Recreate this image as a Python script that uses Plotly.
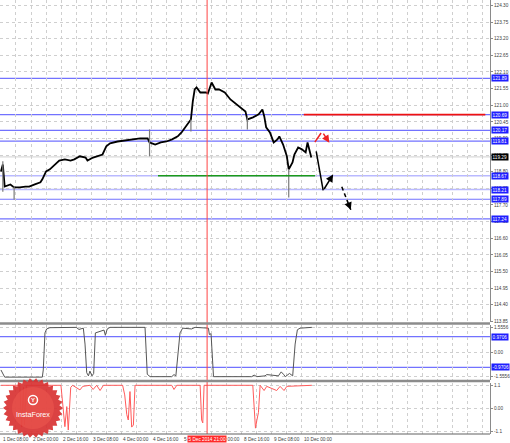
import math
import plotly.graph_objects as go

# ---------------- data ----------------
# H1 bar index counted from 1 Dec 08:00
price_bar = [0, 1, 2, 5, 7, 10, 13, 15, 18, 21, 22, 24, 26, 29, 31, 34, 37, 39, 42, 45,
             46, 49, 53, 54, 56, 58, 62, 66, 70, 74, 78, 79, 82, 85, 88, 91, 94, 96, 98, 101,
             102, 103, 104, 106, 109, 110, 112, 114, 116, 119, 122, 124, 127, 130, 131, 134, 137, 139, 140, 141,
             143, 145, 147, 148, 150, 152, 153, 155, 156, 158, 160, 162, 163, 165]
price_close = [118.81, 119.04, 118.31, 118.38, 118.28, 118.28, 118.31, 118.31, 118.38, 118.45, 118.55, 118.81, 118.88, 119.04, 119.17, 119.21, 119.17, 119.21, 119.31, 119.27,
               119.17, 119.27, 119.34, 119.37, 119.64, 119.74, 119.80, 119.84, 119.87, 119.90, 119.90, 119.77, 119.70, 119.77, 119.80, 119.87, 119.97, 120.10, 120.27, 120.53,
               121.13, 121.52, 121.59, 121.42, 121.42, 121.39, 121.75, 121.52, 121.52, 121.42, 121.19, 121.09, 120.96, 120.79, 120.53, 120.60, 120.70, 120.86, 120.63, 120.27,
               120.10, 119.77, 119.87, 119.97, 119.70, 119.31, 118.88, 119.11, 119.37, 119.60, 119.54, 119.44, 119.77, 119.27]

wick_bar = [1, 7, 79, 101, 131, 153]
wick_high = [119.15, 118.31, 120.20, 120.53, 120.63, 118.88]
wick_low = [118.14, 117.88, 119.31, 120.13, 120.20, 117.95]

level_blue = [121.89, 120.69, 120.17, 119.81, 117.89, 117.24]
level_pale = [118.67, 118.21]
bid_price = 119.29
green_level = 118.67
green_bars = [83.5, 167]
red_level = 120.69
red_bars = [161, 257.5]
cursor_bar = 109.6
cursor_label = "5 Dec 2014 21:00"

fc_solid_bar = [167.6, 171.3, 176.6]
fc_solid_price = [119.47, 118.18, 118.71]
fc_dash_bar = [181.2, 186.0]
fc_dash_price = [118.30, 117.54]
fc_red_bar = [166.9, 170.2, 170.9, 174.6]
fc_red_price = [119.78, 120.08, 120.11, 119.76]

price_ticks = [124.30, 123.75, 123.20, 122.65, 122.10, 121.55, 121.00, 120.45, 119.90, 119.35,
               118.80, 118.25, 117.70, 117.15, 116.60, 116.05, 115.50, 114.95, 114.40, 113.85]

osc_bar = [0, 2, 22, 22.5, 23.4, 24.3, 26, 40, 41.5, 43,
           43.8, 44.7, 45.6, 46.5, 47.3, 48.4, 49.3, 50.2, 52.7, 54.8,
           55.5, 56.5, 58, 76.6, 77.8, 79.3, 90.8, 92, 93, 95.2,
           96.6, 101.4, 103.2, 110.3, 110.8, 111.7, 113, 133.3, 134.6, 136,
           140.4, 141.3, 147.5, 149, 150.2, 151.2, 153.4, 155.1, 156.4, 157.6,
           159, 165.3]
osc_val = [-1.13, -1.58, -1.58, -1.13, 1.2, 1.45, 1.53, 1.55, 1.42, 1.45,
           1.5, 0.5, -1.3, -1.5, -1.2, -1.5, -1.35, 1.2, 1.3, 1.38,
           1.05, 1.45, 1.55, 1.55, -1.4, -1.55, -1.55, -1.42, -1.5, 1.2,
           1.5, 1.45, 1.55, 1.5, 1.1, 1.15, -1.55, -1.55, -1.45, -1.55,
           -1.5, -1.42, -1.5, -1.25, -1.4, -1.55, -1.35, -1.5, 0.5, 1.4,
           1.5, 1.55]
osc_levels = [0.9706, -0.9706]
osc_ticks = [1.5556, 0.0, -1.5556]
osc_ticktext = ["1.5556", "0.00", "-1.5556"]

red_osc_bar = [0, 10, 11, 12, 12.5, 13.5, 31.9, 33.1, 34, 35,
               35.8, 37.1, 38.1, 42, 43.5, 47.3, 49, 50.9, 52.7, 54.5,
               64.7, 65.8, 66.9, 67.7, 68.6, 69.5, 70.4, 71.3, 90.8, 92,
               93.5, 105.9, 106.7, 107.3, 108, 133.9, 134.6, 135.3, 136, 136.9,
               137.8, 139.9, 141.3, 146.6, 148.4, 150.5, 152, 165.3]
red_osc_val = [1.1, 1.1, -0.9, 1.0, -0.8, 1.1, 1.1, -0.25, -0.88, 0.08,
               -1.04, 1.0, 1.1, 0.88, 1.05, 1.1, 0.9, 1.1, 0.85, 1.1,
               1.1, 0.64, -0.3, -0.56, 0.8, -0.9, -0.8, 1.1, 1.1, 0.9,
               1.1, 1.1, -0.56, -0.7, 1.1, 1.1, -0.3, -0.95, -0.6, -0.2,
               1.1, 0.85, 1.05, 0.85, 1.05, 0.85, 1.05, 1.1]
red_ticks = [1.1, 0.0, -1.1]
red_ticktext = ["1.1", "0.00", "-1.1"]

date_tick_bars = [0, 16, 32, 48, 64, 80, 96, 112, 128, 144, 160]
date_tick_text = ["1 Dec 08:00", "2 Dec 00:00", "2 Dec 16:00", "3 Dec 08:00", "4 Dec 00:00",
                  "4 Dec 16:00", "5 Dec 08:00", "8 Dec 00:00", "8 Dec 16:00", "9 Dec 08:00", "10 Dec 00:00"]

# ---------------- figure ----------------
W, H = 510, 443
ML, MR, MT, MB = 0, 20, 0, 9
PW, PH = W - ML - MR, H - MT - MB
FONT = "Liberation Sans"
FS = 4.7
LBL = "#404040"
GRID = "#cfcfcf"
BLUE = "#7272ff"
PALE = "#b9b9ff"


def py2paper(py):
    return (PH - py) / PH


def px2paper(px):
    return px / PW


fig = go.Figure()

# main price path
fig.add_trace(go.Scatter(x=price_bar, y=price_close, mode="lines",
                         line=dict(color="black", width=1.8), xaxis="x", yaxis="y", hoverinfo="skip"))
wx, wy = [], []
for b, hi, lo in zip(wick_bar, wick_high, wick_low):
    wx += [b, b, None]
    wy += [hi, lo, None]
fig.add_trace(go.Scatter(x=wx, y=wy, mode="lines", line=dict(color="#7a7a7a", width=1.2),
                         xaxis="x", yaxis="y", hoverinfo="skip"))

# green & red horizontal segments
fig.add_trace(go.Scatter(x=green_bars, y=[green_level] * 2, mode="lines",
                         line=dict(color="#1a9a1a", width=1.5), xaxis="x", yaxis="y"))
fig.add_trace(go.Scatter(x=red_bars, y=[red_level] * 2, mode="lines",
                         line=dict(color="#ee1111", width=1.6), xaxis="x", yaxis="y"))

# forecast lines
fig.add_trace(go.Scatter(x=fc_solid_bar[:2], y=fc_solid_price[:2], mode="lines",
                         line=dict(color="black", width=1.5), xaxis="x", yaxis="y"))
fig.add_trace(go.Scatter(x=fc_dash_bar, y=fc_dash_price, mode="lines",
                         line=dict(color="black", width=1.5, dash="4px,3px"), xaxis="x", yaxis="y"))
fig.add_trace(go.Scatter(x=fc_red_bar[:2], y=fc_red_price[:2], mode="lines",
                         line=dict(color="#ee2222", width=1.5), xaxis="x", yaxis="y"))

# oscillators
fig.add_trace(go.Scatter(x=osc_bar, y=osc_val, mode="lines", line=dict(color="#555555", width=1),
                         xaxis="x2", yaxis="y2", hoverinfo="skip"))
fig.add_trace(go.Scatter(x=red_osc_bar, y=red_osc_val, mode="lines", line=dict(color="#ff5a5a", width=1),
                         xaxis="x3", yaxis="y3", hoverinfo="skip"))

dom_main = [py2paper(322), 1]
dom_osc = [py2paper(380), py2paper(324.5)]
dom_red = [0, py2paper(382.5)]

xcommon = dict(range=[-0.5, 260], showticklabels=False, showgrid=True, gridcolor=GRID, griddash="dot",
               gridwidth=1, tick0=0, dtick=8, zeroline=False, showline=False, ticks="")
ycommon = dict(side="right", showgrid=True, gridcolor=GRID, griddash="dot", gridwidth=1, zeroline=False,
               showline=True, linecolor="#8a8a8a", linewidth=1, ticks="outside", ticklen=2, tickcolor="#8a8a8a",
               tickfont=dict(family=FONT, size=FS, color=LBL), tickmode="array")

fig.update_layout(
    width=W, height=H, margin=dict(l=ML, r=MR, t=MT, b=MB, pad=0),
    paper_bgcolor="white", plot_bgcolor="white", showlegend=False,
    xaxis=dict(domain=[0, 1], anchor="y", **xcommon),
    xaxis2=dict(domain=[0, 1], anchor="y2", matches="x", **xcommon),
    xaxis3=dict(domain=[0, 1], anchor="y3", matches="x", **xcommon),
    yaxis=dict(domain=dom_main, anchor="x", range=[113.83, 124.48], tickvals=price_ticks,
               ticktext=[f"{v:.2f}" for v in price_ticks], **ycommon),
    yaxis2=dict(domain=dom_osc, anchor="x2", range=[-1.76, 1.73], tickvals=osc_ticks,
                ticktext=osc_ticktext, **ycommon),
    yaxis3=dict(domain=dom_red, anchor="x3", range=[-1.23, 1.234], tickvals=red_ticks,
                ticktext=red_ticktext, **ycommon),
)

shapes = []
# level lines (full width)
for lv in level_blue:
    shapes.append(dict(type="line", xref="paper", yref="y", x0=0, x1=1, y0=lv, y1=lv,
                       line=dict(color=BLUE, width=1.2), layer="below"))
for lv in level_pale:
    shapes.append(dict(type="line", xref="paper", yref="y", x0=0, x1=1, y0=lv, y1=lv,
                       line=dict(color=PALE, width=1.5), layer="below"))
shapes.append(dict(type="line", xref="paper", yref="y", x0=0, x1=1, y0=bid_price, y1=bid_price,
                   line=dict(color="#d0d0d0", width=1), layer="below"))
for lv in osc_levels:
    shapes.append(dict(type="line", xref="paper", yref="y2", x0=0, x1=1, y0=lv, y1=lv,
                       line=dict(color=BLUE, width=1.2), layer="below"))
# cursor vertical line
shapes.append(dict(type="line", xref="x", yref="paper", x0=cursor_bar, x1=cursor_bar, y0=0, y1=1,
                   line=dict(color="#ff4444", width=1)))
# panel separators and bottom border
for sep in (323.5, 381):
    shapes.append(dict(type="line", xref="paper", yref="paper", x0=0, x1=1, y0=py2paper(sep), y1=py2paper(sep),
                       line=dict(color="#8c8c8c", width=2.5)))
shapes.append(dict(type="line", xref="paper", yref="paper", x0=0, x1=1, y0=0, y1=0,
                   line=dict(color="#606060", width=1)))

# InstaForex badge (decoration)
cx, cy, r_out, r_in, n = 33, 408, 30, 26.5, 30
pts = []
for k in range(2 * n):
    ang = math.pi * k / n
    r = r_out if k % 2 == 0 else r_in
    pts.append((px2paper(cx + r * math.cos(ang)), py2paper(cy + r * math.sin(ang))))
path = "M " + " L ".join(f"{a:.5f},{b:.5f}" for a, b in pts) + " Z"
shapes.append(dict(type="path", xref="paper", yref="paper", path=path,
                   fillcolor="#d83232", line=dict(width=0), opacity=0.92))
shapes.append(dict(type="circle", xref="paper", yref="paper",
                   x0=px2paper(cx - 21), x1=px2paper(cx + 21), y0=py2paper(cy + 21), y1=py2paper(cy - 21),
                   fillcolor="#ec5a50", line=dict(width=0), opacity=0.55))
shapes.append(dict(type="circle", xref="paper", yref="paper",
                   x0=px2paper(cx - 4.5), x1=px2paper(cx + 4.5), y0=py2paper(cy - 3.5), y1=py2paper(cy - 12.5),
                   fillcolor="rgba(0,0,0,0)", line=dict(color="white", width=1.5)))
fig.update_layout(shapes=shapes)

ann = []
# forecast arrows
ann.append(dict(x=fc_solid_bar[2], y=fc_solid_price[2], ax=fc_solid_bar[1], ay=fc_solid_price[1],
                xref="x", yref="y", axref="x", ayref="y", showarrow=True, arrowhead=2, arrowsize=1,
                arrowwidth=1.5, arrowcolor="black", text=""))
# short arrow head at the end of the dashed line
tail_x = fc_dash_bar[1] - 0.3 * (fc_dash_bar[1] - fc_dash_bar[0])
tail_y = fc_dash_price[1] - 0.3 * (fc_dash_price[1] - fc_dash_price[0])
ann.append(dict(x=fc_dash_bar[1], y=fc_dash_price[1], ax=tail_x, ay=tail_y,
                xref="x", yref="y", axref="x", ayref="y", showarrow=True, arrowhead=2, arrowsize=1,
                arrowwidth=1.5, arrowcolor="black", text=""))
ann.append(dict(x=fc_red_bar[3], y=fc_red_price[3], ax=fc_red_bar[2], ay=fc_red_price[2],
                xref="x", yref="y", axref="x", ayref="y", showarrow=True, arrowhead=2, arrowsize=1,
                arrowwidth=1.5, arrowcolor="#ee2222", text=""))

# date labels
for b, t in zip(date_tick_bars, date_tick_text):
    ann.append(dict(x=b, y=0, xref="x", yref="paper", xanchor="left", yanchor="top", xshift=0, yshift=-0.5,
                    text=t, showarrow=False, font=dict(family=FONT, size=FS, color=LBL)))
ann.append(dict(x=cursor_bar, y=0, xref="x", yref="paper", xanchor="center", yanchor="top", yshift=-0.5,
                text=cursor_label, showarrow=False, bgcolor="#ff2a2a", borderpad=0.5,
                font=dict(family=FONT, size=FS, color="white")))

# right-axis value boxes
def box(val, yref, txt, bg):
    return dict(x=1, y=val, xref="paper", yref=yref, xanchor="left", yanchor="middle", xshift=1,
                text=txt, showarrow=False, bgcolor=bg, borderpad=0.6,
                font=dict(family=FONT, size=FS, color="white"))

for lv in level_blue + level_pale:
    ann.append(box(lv, "y", f"{lv:.2f}", "#1f1fff"))
ann.append(box(bid_price, "y", f"{bid_price:.2f}", "#000000"))
for lv in osc_levels:
    ann.append(box(lv, "y2", f"{lv:.4f}", "#1f1fff"))

# badge text
ann.append(dict(x=px2paper(cx), y=py2paper(cy + 6), xref="paper", yref="paper", xanchor="center",
                yanchor="middle", text="InstaForex", showarrow=False,
                font=dict(family=FONT, size=7.2, color="white")))
ann.append(dict(x=px2paper(cx), y=py2paper(cy - 8), xref="paper", yref="paper", xanchor="center",
                yanchor="middle", text="<b>Y</b>", showarrow=False,
                font=dict(family=FONT, size=6, color="white")))
fig.update_layout(annotations=ann)

fig.write_html("out.html", config={"displayModeBar": False},
               post_script="document.body.style.margin='0';document.body.style.overflow='hidden';")
